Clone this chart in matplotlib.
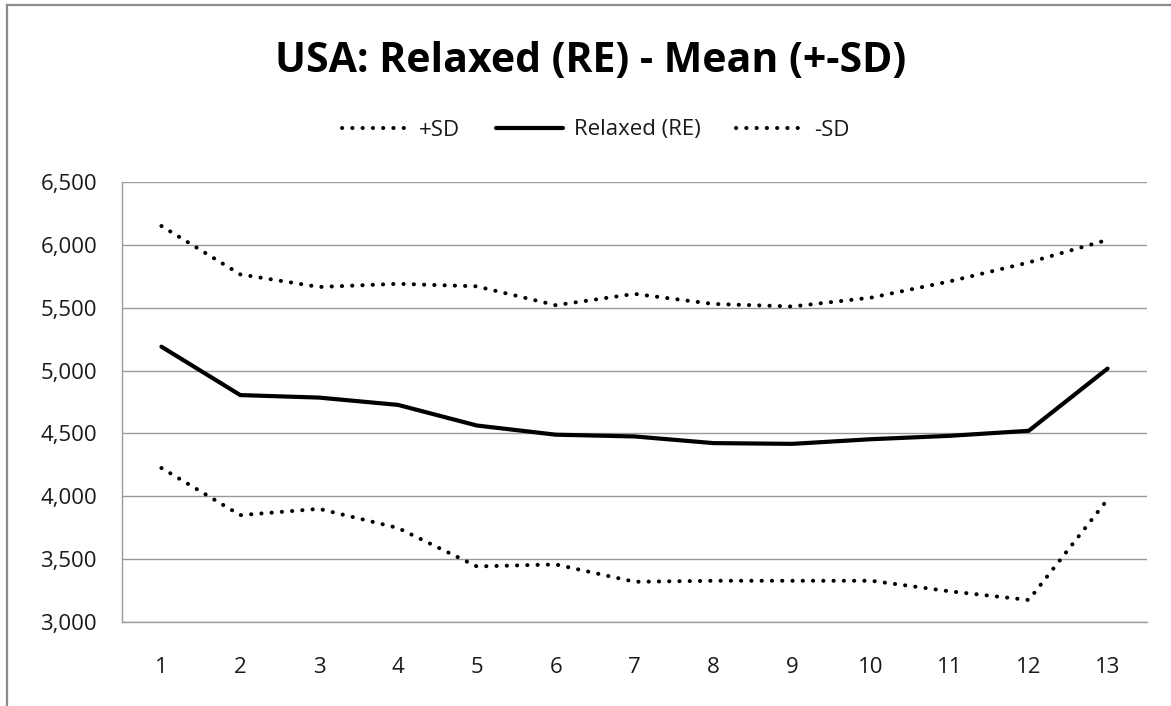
import matplotlib
matplotlib.use("Agg")
import matplotlib.pyplot as plt
from matplotlib.lines import Line2D
from matplotlib.ticker import FuncFormatter, MultipleLocator

# Mean scores and +/- one standard deviation for 13 measurement points
points = [1, 2, 3, 4, 5, 6, 7, 8, 9, 10, 11, 12, 13]
plus_sd = [6150, 5765, 5665, 5690, 5670, 5520, 5610, 5530, 5510, 5580, 5710, 5860, 6040]
relaxed = [5190, 4805, 4785, 4727, 4563, 4490, 4476, 4423, 4417, 4454, 4481, 4521, 5016]
minus_sd = [4225, 3850, 3900, 3748, 3442, 3458, 3320, 3328, 3328, 3328, 3244, 3175, 3975]

title = "USA: Relaxed (RE) - Mean (+-SD)"
labels = ["+SD", "Relaxed (RE)", "-SD"]

plt.rcParams["font.family"] = ["Open Sans", "DejaVu Sans"]

W, H = 1171, 706
fig = plt.figure(figsize=(W / 100, H / 100), dpi=100)
ax = fig.add_axes([122 / W, 1 - 622 / H, 1025 / W, 440 / H])

dotted = dict(linestyle=(0, (0.05, 2.5)), linewidth=2.9, color="black",
              dash_capstyle="round")
solid = dict(color="black", linewidth=3.0, solid_joinstyle="miter",
             solid_capstyle="round")

line_plus, = ax.plot(points, plus_sd, zorder=3, **dotted)
line_mean, = ax.plot(points, relaxed, zorder=4, **solid)
line_minus, = ax.plot(points, minus_sd, zorder=3, **dotted)

ax.set_xlim(0.5, 13.5)
ax.set_ylim(3000, 6500)
ax.set_xticks(points)
ax.set_xticklabels([str(p) for p in points])
ax.yaxis.set_major_locator(MultipleLocator(500))
ax.yaxis.set_major_formatter(FuncFormatter(lambda v, _: f"{int(v):,}"))

ax.grid(axis="y", color="#9a9a9a", linewidth=1.0)
ax.set_axisbelow(True)
for side in ("top", "right"):
    ax.spines[side].set_visible(False)
for side in ("left", "bottom"):
    ax.spines[side].set_color("#9a9a9a")
    ax.spines[side].set_linewidth(1.0)

ax.tick_params(axis="both", length=0, labelsize=16, labelcolor="#1a1a1a")
ax.tick_params(axis="y", pad=18)
ax.tick_params(axis="x", pad=25)

fig.text(0.5 + 5 / W, 1 - 72 / H, title, ha="center", va="baseline",
         fontsize=29.5, fontweight="bold", color="black")

fig.legend([line_plus, line_mean, line_minus], labels, loc="center",
           bbox_to_anchor=(0.5 + 10 / W, 1 - 130 / H), ncol=3, frameon=False,
           fontsize=16, handlelength=3.0, handletextpad=0.5,
           columnspacing=1.6, labelcolor="#1a1a1a")

# chart frame
fig.add_artist(Line2D([7 / W, 7 / W], [0, 1 - 5 / H], color="#8c8c8c",
                      linewidth=1.6, transform=fig.transFigure))
fig.add_artist(Line2D([7 / W, 1], [1 - 5 / H, 1 - 5 / H], color="#8c8c8c",
                      linewidth=1.6, transform=fig.transFigure))

fig.savefig("out.png", dpi=100, facecolor="white")
